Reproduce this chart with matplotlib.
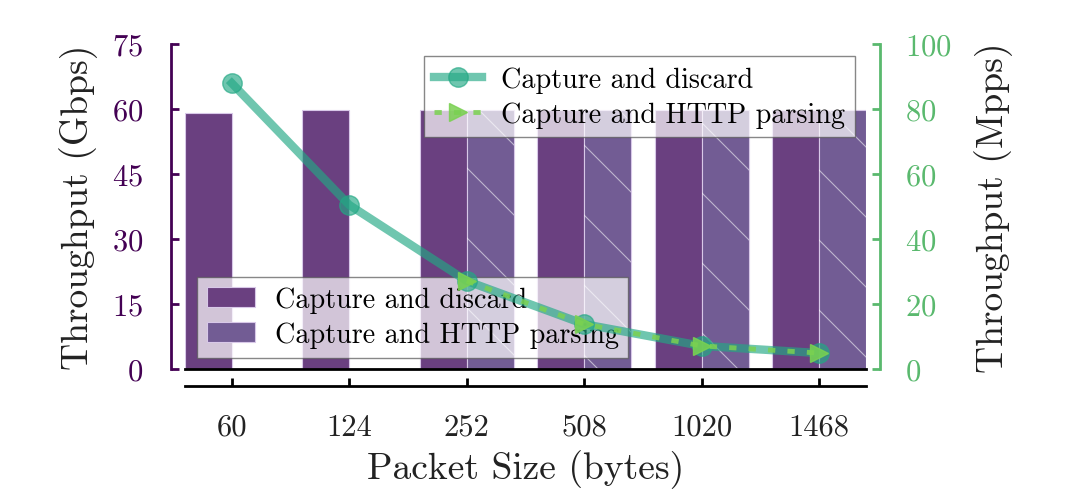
import matplotlib
matplotlib.use('Agg')
import matplotlib.pyplot as plt
from matplotlib.lines import Line2D
from matplotlib.transforms import IdentityTransform
import numpy as np

# packet sizes (bytes) on the x axis
sizes = ['60', '124', '252', '508', '1020', '1468']

# throughput in Gbps (bars, left axis)
gbps_discard = [59.1, 59.8, 59.9, 59.9, 59.9, 59.9]
gbps_http = [np.nan, np.nan, 59.9, 59.9, 59.9, 59.9]

# throughput in Mpps (lines, right axis)
mpps_discard = [88.0, 50.5, 27.1, 13.8, 7.1, 4.9]
mpps_http = [np.nan, np.nan, 27.1, 13.8, 7.1, 4.9]

purple = '#440154'
green = '#5ab96e'
bar1_color = '#6a4080'
bar2_color = '#725c94'
text_color = '#222222'

plt.rcParams['font.family'] = ['cmr10', 'DejaVu Serif']
plt.rcParams['axes.formatter.use_mathtext'] = True

fig = plt.figure(figsize=(10.68, 5.02), dpi=100)
ax = fig.add_axes([0.173, 0.263, 0.638, 0.647])
ax2 = ax.twinx()

x = np.arange(len(sizes))
w = 0.4
ax.bar(x - w / 2, gbps_discard, w, color=bar1_color, edgecolor='#d8c8e8',
       linewidth=0.8, label='Capture and discard')
bars2 = ax.bar(x + w / 2, gbps_http, w, color=bar2_color, edgecolor='#d8c8e8',
               linewidth=0.8, label='Capture and HTTP parsing')

ax2.plot(x, mpps_discard, color='#22a884', alpha=0.65, lw=6, marker='o',
         ms=14, label='Capture and discard')
ax2.plot(x, mpps_http, color='#7ad151', alpha=0.85, lw=3.5,
         ls=(0, (1.5, 2.5)), marker='>', ms=13, label='Capture and HTTP parsing')

ax.set_xlim(-0.4, len(sizes) - 0.6)
ax.set_ylim(0, 75)
ax2.set_ylim(0, 100)
ax.set_yticks(np.arange(0, 76, 15))
ax2.set_yticks(np.arange(0, 101, 20))
ax.set_xticks(x)
ax.set_xticklabels(sizes)

# sparse hatching: diagonal white lines clipped to each parsing bar
step = 70
for b in bars2:
    if np.isnan(b.get_height()):
        continue
    (x0, y0), (x1, y1) = ax.transData.transform([(b.get_x(), 0),
                                                 (b.get_x() + b.get_width(), b.get_height())])
    for c in np.arange(-2000, 2000, step):
        # line x + y = c in display coords (top-left to bottom-right)
        xs = np.array([x0 - 200, x1 + 200])
        ys = c - xs
        if ys.max() < y0 or ys.min() > y1:
            continue
        ln = Line2D(xs, ys, transform=IdentityTransform(), color='white',
                    alpha=0.55, lw=0.8, zorder=1.5)
        ax.add_artist(ln)
        ln.set_clip_path(b)

# spines
for s in ['top', 'right']:
    ax.spines[s].set_visible(False)
ax.spines['left'].set_position(('outward', 10))
ax.spines['left'].set_color(purple)
ax.spines['left'].set_linewidth(2)
ax.spines['bottom'].set_position(('outward', 12))
ax.spines['bottom'].set_linewidth(2)
ax2.spines['top'].set_visible(False)
ax2.spines['left'].set_visible(False)
ax2.spines['right'].set_position(('outward', 10))
ax2.spines['right'].set_color(green)
ax2.spines['right'].set_linewidth(2)
ax2.spines['bottom'].set_linewidth(2)

ax.tick_params(axis='y', direction='in', length=6, width=2, colors=purple,
               labelsize=22, pad=20)
ax.tick_params(axis='x', direction='in', length=6, width=2, labelsize=22,
               pad=20, labelcolor=text_color)
ax2.tick_params(axis='y', direction='in', length=6, width=2, colors=green,
                labelsize=22, pad=18)

ax.set_ylabel('Throughput (Gbps)', fontsize=27, color=text_color, labelpad=10)
ax2.set_ylabel('Throughput (Mpps)', fontsize=27, color=text_color, labelpad=16)
ax.set_xlabel('Packet Size (bytes)', fontsize=27, color=text_color, labelpad=6)

leg1 = ax.legend(loc='lower left', bbox_to_anchor=(0.018, 0.034),
                 borderaxespad=0, fontsize=20.3, fancybox=False,
                 edgecolor='#555555', framealpha=0.7, handlelength=1.7,
                 handletextpad=0.7, borderpad=0.35, labelspacing=0.3)
leg2 = ax2.legend(loc='upper right', bbox_to_anchor=(0.984, 0.963),
                  borderaxespad=0, fontsize=20.3, fancybox=False,
                  edgecolor='#555555', framealpha=0.7, handlelength=1.7,
                  handletextpad=0.7, borderpad=0.35, labelspacing=0.3,
                  numpoints=1)

fig.savefig('out.png', dpi=100)
